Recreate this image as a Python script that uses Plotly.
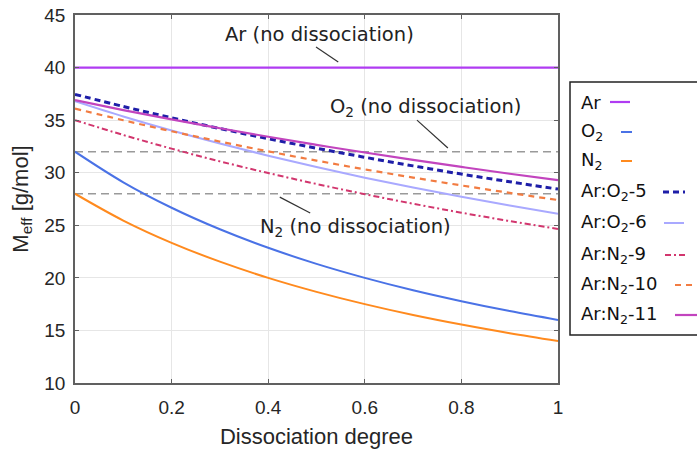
import plotly.graph_objects as go

alpha = [0.0, 0.1, 0.2, 0.3, 0.4, 0.5, 0.6, 0.7, 0.8, 0.9, 1.0]
m_ar = [40.0] * 11
m_o2 = [32.0, 29.09, 26.67, 24.62, 22.86, 21.33, 20.0, 18.82, 17.78, 16.84, 16.0]
m_n2 = [28.0, 25.45, 23.33, 21.54, 20.0, 18.67, 17.5, 16.47, 15.56, 14.74, 14.0]
m_ar_o2_5 = [37.45, 36.30, 35.22, 34.20, 33.24, 32.33, 31.47, 30.65, 29.87, 29.14, 28.44]
m_ar_o2_6 = [36.8, 35.35, 34.01, 32.77, 31.62, 30.54, 29.53, 28.59, 27.71, 26.88, 26.10]
m_ar_n2_9 = [35.0, 33.59, 32.29, 31.08, 29.97, 28.93, 27.96, 27.05, 26.20, 25.40, 24.65]
m_ar_n2_10 = [36.1, 34.99, 33.94, 32.96, 32.03, 31.15, 30.32, 29.54, 28.79, 28.08, 27.40]
m_ar_n2_11 = [36.9, 35.96, 35.08, 34.23, 33.42, 32.65, 31.92, 31.22, 30.55, 29.90, 29.29]
ref_levels = [32.0, 28.0]

x_ticks = [0, 0.2, 0.4, 0.6, 0.8, 1]
x_ticklabels = ["0", "0.2", "0.4", "0.6", "0.8", "1"]
y_ticks = [10, 15, 20, 25, 30, 35, 40, 45]

names = ["Ar", "O<sub>2</sub>", "N<sub>2</sub>", "Ar:O<sub>2</sub>-5", "Ar:O<sub>2</sub>-6",
         "Ar:N<sub>2</sub>-9", "Ar:N<sub>2</sub>-10", "Ar:N<sub>2</sub>-11"]
series = [m_ar, m_o2, m_n2, m_ar_o2_5, m_ar_o2_6, m_ar_n2_9, m_ar_n2_10, m_ar_n2_11]
colors = ["#B03CF2", "#4A72E6", "#FF8A1E", "#1E1EA8", "#A9A9FF", "#D2366E", "#F27C42", "#C244BE"]
dashes = ["solid", "solid", "solid", "6px,4px", "solid", "6px,3px,2px,3px", "6px,5px", "solid"]
widths = [2.2, 2.0, 2.0, 3.0, 2.0, 2.0, 2.2, 2.2]

W, H = 697, 449
L, R, T, B = 75, 558, 15, 383

def px(x):
    return (x - L) / (R - L)

def py(y):
    return (B - y) / (B - T)

fig = go.Figure()

for lv in ref_levels:
    fig.add_trace(go.Scatter(x=[alpha[0], alpha[-1]], y=[lv, lv], mode="lines",
                             line=dict(color="#9A9A9A", width=1.6, dash="8px,5px"),
                             showlegend=False, hoverinfo="skip"))

order = [1, 2, 0, 4, 5, 6, 3, 7]
for i in order:
    fig.add_trace(go.Scatter(x=alpha, y=series[i], mode="lines", name=names[i],
                             line=dict(color=colors[i], width=widths[i], dash=dashes[i], shape="spline"),
                             showlegend=False))

annotations = []
shapes = []

labels = [
    ("Ar (no dissociation)", 0.507, 43.1, (0.499, 41.96, 0.545, 40.53)),
    ("O<sub>2</sub> (no dissociation)", 0.725, 36.2, (0.708, 35.0, 0.772, 32.35)),
    ("N<sub>2</sub> (no dissociation)", 0.58, 24.8, (0.424, 27.68, 0.487, 26.16)),
]
for txt, xa, ya, (x0, y0, x1, y1) in labels:
    annotations.append(dict(x=xa, y=ya, xref="x", yref="y", text=txt, showarrow=False,
                            font=dict(family="DejaVu Sans", size=19.5, color="#222222"),
                            xanchor="center", yanchor="middle"))
    shapes.append(dict(type="line", xref="x", yref="y", x0=x0, y0=y0, x1=x1, y1=y1,
                       line=dict(color="#333333", width=1.2)))

shapes.append(dict(type="rect", xref="paper", yref="paper", x0=px(570), x1=px(700),
                   y0=py(335), y1=py(82), line=dict(color="#222222", width=1.5),
                   fillcolor="white", layer="above"))
leg_y = [102, 132, 161, 192, 223, 255, 285, 315]
leg_x = [(610, 630), (621, 632), (621, 632), (663, 685), (664, 684), (665, 685), (675, 697), (675, 697)]
for i in range(8):
    annotations.append(dict(x=px(579), y=py(leg_y[i]), xref="paper", yref="paper",
                            text=names[i], showarrow=False, xanchor="left", yanchor="middle",
                            font=dict(family="DejaVu Sans", size=18, color="#111111")))
    shapes.append(dict(type="line", xref="paper", yref="paper",
                       x0=px(leg_x[i][0]), x1=px(leg_x[i][1]), y0=py(leg_y[i]), y1=py(leg_y[i]),
                       line=dict(color=colors[i], width=widths[i], dash=dashes[i])))

fig.update_layout(
    width=W, height=H,
    margin=dict(l=L, r=W - R, t=T, b=H - B),
    paper_bgcolor="white", plot_bgcolor="white",
    font=dict(family="Liberation Sans, Arial", size=19, color="#262626"),
    annotations=annotations, shapes=shapes,
    showlegend=False,
)
fig.update_xaxes(range=[0, 1], tickvals=x_ticks, ticktext=x_ticklabels,
                 showgrid=True, gridcolor="#E6E6E6", gridwidth=1,
                 showline=True, linecolor="#606060", linewidth=1.5, mirror="ticks",
                 ticks="inside", ticklen=4, tickcolor="#606060", zeroline=False,
                 ticklabelstandoff=6, automargin=False,
                 title=dict(text="Dissociation degree", font=dict(size=22), standoff=12))
fig.update_yaxes(range=[10, 45], tickvals=y_ticks,
                 showgrid=True, gridcolor="#E6E6E6", gridwidth=1,
                 showline=True, linecolor="#606060", linewidth=1.5, mirror="ticks",
                 ticks="inside", ticklen=4, tickcolor="#606060", zeroline=False,
                 ticklabelstandoff=4, automargin=False,
                 title=dict(text="M<sub>eff</sub> [g/mol]", font=dict(size=22), standoff=10))

fig.write_html("out.html")
